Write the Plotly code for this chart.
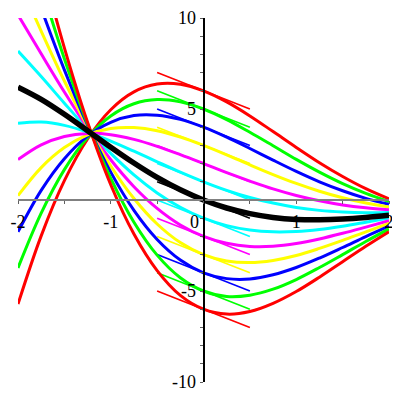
import plotly.graph_objects as go

x_vals = [-2, -1.75, -1.5, -1.25, -1, -0.75, -0.5, -0.25, 0, 0.25, 0.5, 0.75, 1, 1.25, 1.5, 1.75, 2]

# curves labelled by their value at x = 0
curve_p6 = [-5.72, -1.97, 1.06, 3.35, 4.96, 5.94, 6.37, 6.36, 6.00, 5.39, 4.62, 3.76, 2.89, 2.05, 1.29, 0.62, 0.06]
curve_p5 = [-3.73, -0.72, 1.67, 3.43, 4.62, 5.29, 5.52, 5.39, 5.00, 4.42, 3.72, 2.98, 2.23, 1.53, 0.90, 0.36, -0.09]
curve_p4 = [-1.75, 0.53, 2.27, 3.51, 4.27, 4.64, 4.66, 4.43, 4.00, 3.45, 2.83, 2.19, 1.57, 1.00, 0.51, 0.09, -0.24]
curve_p3 = [0.24, 1.78, 2.88, 3.58, 3.93, 3.98, 3.81, 3.46, 3.00, 2.48, 1.93, 1.40, 0.91, 0.48, 0.12, -0.17, -0.39]
curve_p2 = [2.22, 3.03, 3.49, 3.66, 3.59, 3.33, 2.95, 2.49, 2.00, 1.50, 1.04, 0.61, 0.25, -0.04, -0.27, -0.43, -0.54]
curve_p1 = [4.21, 4.28, 4.10, 3.73, 3.24, 2.68, 2.10, 1.53, 1.00, 0.53, 0.14, -0.17, -0.41, -0.57, -0.66, -0.70, -0.69]
curve_0 = [6.20, 5.53, 4.71, 3.81, 2.90, 2.03, 1.24, 0.56, 0.00, -0.44, -0.75, -0.96, -1.07, -1.09, -1.05, -0.96, -0.84]
curve_m1 = [8.18, 6.78, 5.32, 3.89, 2.56, 1.38, 0.39, -0.40, -1.00, -1.41, -1.65, -1.75, -1.73, -1.62, -1.44, -1.22, -0.99]
curve_m2 = [10.17, 8.03, 5.93, 3.96, 2.21, 0.73, -0.46, -1.37, -2.00, -2.38, -2.55, -2.54, -2.39, -2.14, -1.83, -1.49, -1.14]
curve_m3 = [12.15, 9.28, 6.54, 4.04, 1.87, 0.08, -1.32, -2.34, -3.00, -3.35, -3.44, -3.32, -3.05, -2.66, -2.22, -1.75, -1.29]
curve_m4 = [14.14, 10.53, 7.15, 4.12, 1.53, -0.57, -2.17, -3.30, -4.00, -4.32, -4.34, -4.11, -3.71, -3.19, -2.61, -2.01, -1.44]
curve_m5 = [16.12, 11.78, 7.76, 4.19, 1.19, -1.22, -3.03, -4.27, -5.00, -5.30, -5.23, -4.90, -4.37, -3.71, -3.00, -2.28, -1.59]
curve_m6 = [18.11, 13.03, 8.36, 4.27, 0.84, -1.87, -3.88, -5.24, -6.00, -6.27, -6.13, -5.68, -5.03, -4.24, -3.39, -2.54, -1.74]

# short tangent segments at x = 0
tangent_x = [-0.5, 0.5]
tangent_start = [7, 6, 5, 4, 3, 2, 1, 0, -1, -2, -3, -4, -5]
tangent_end = [5, 4, 3, 2, 1, 0, -1, -2, -3, -4, -5, -6, -7]

curves = [curve_p6, curve_p5, curve_p4, curve_p3, curve_p2, curve_p1,
          curve_m1, curve_m2, curve_m3, curve_m4, curve_m5, curve_m6]
curve_colors = ["#ff0000", "#00ff00", "#0000ff", "#ffff00", "#ff00ff", "#00ffff",
                "#00ffff", "#ff00ff", "#ffff00", "#0000ff", "#00ff00", "#ff0000"]
tangent_colors = ["#ff0000", "#00ff00", "#0000ff", "#ffff00", "#ff00ff", "#00ffff", "#000000",
                  "#00ffff", "#ff00ff", "#ffff00", "#0000ff", "#00ff00", "#ff0000"]

x_tickvals = [-2, -1.5, -1, -0.5, 0, 0.5, 1, 1.5, 2]
x_ticktext = ["-2", "", "-1", "", "0\u00a0\u00a0\u00a0\u00a0", "", "1", "", "2"]
y_tickvals = list(range(-10, 11))
y_labels = {-10: "-10", -5: "-5", 5: "5", 10: "10"}
y_ticktext = [y_labels.get(v, "") for v in y_tickvals]

fig = go.Figure()

for s, e, col in zip(tangent_start, tangent_end, tangent_colors):
    fig.add_trace(go.Scatter(x=tangent_x, y=[s, e], mode="lines",
                             line=dict(color=col, width=1.6), hoverinfo="skip"))

for ys, col in zip(curves, curve_colors):
    fig.add_trace(go.Scatter(x=x_vals, y=ys, mode="lines",
                             line=dict(color=col, width=3, shape="spline", smoothing=1),
                             hoverinfo="skip"))

fig.add_trace(go.Scatter(x=x_vals, y=curve_0, mode="lines",
                         line=dict(color="#000000", width=5.5, shape="spline", smoothing=1),
                         hoverinfo="skip"))

font = dict(family="Liberation Serif", size=18, color="#000000")

fig.update_layout(
    width=392, height=392,
    margin=dict(l=10, r=11, t=10, b=18, autoexpand=False),
    paper_bgcolor="white", plot_bgcolor="white",
    showlegend=False,
    xaxis=dict(range=[-2, 2], anchor="free", position=0.5, automargin=False,
               showline=True, linecolor="#808080", linewidth=1.5,
               ticks="outside", ticklen=3, tickcolor="#606060", tickwidth=1,
               ticklabelstandoff=3,
               tickvals=x_tickvals, ticktext=x_ticktext,
               showgrid=False, zeroline=False, tickfont=font),
    yaxis=dict(range=[-10, 10], anchor="free", position=0.5, automargin=False,
               showline=True, linecolor="#000000", linewidth=2,
               ticks="outside", ticklen=3, tickcolor="#606060", tickwidth=1,
               tickvals=y_tickvals, ticktext=y_ticktext,
               showgrid=False, zeroline=False, tickfont=font),
)

fig.write_html("out.html")
